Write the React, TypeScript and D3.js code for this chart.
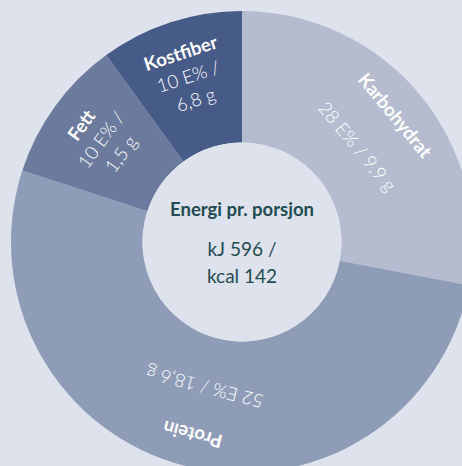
import React from "react";
import * as d3 from "d3";

const categories = ["Karbohydrat", "Protein", "Fett", "Kostfiber"];
const energyPct = [28, 52, 10, 10];
const valueLines = [["28 E% / 9,9 g"], ["52 E% / 18,6 g"], ["10 E% /", "1,5 g"], ["10 E% /", "6,8 g"]];
const colors = ["#b5bccf", "#8f9cb7", "#6b7a9d", "#475b88"];
const centerTitle = "Energi pr. porsjon";
const centerLines = ["kJ 596 /", "kcal 142"];

const W = 462;
const H = 466;
const cx = 242;
const cy = 242;
const R = 231;
const r0 = 99.5;
const titleR = 199;
const lastR = 150;

export default function App() {
  const pie = d3.pie<number>().sort(null).value((d) => d);
  const arcs = pie(energyPct);
  const arcGen = d3.arc<d3.PieArcDatum<number>>().innerRadius(r0).outerRadius(R);
  const font = "Lato, 'Open Sans', sans-serif";
  return (
    <div style={{ position: "fixed", left: 0, top: 0, width: W, height: H, background: "#dee2ec" }}>
      <svg width={W} height={H} style={{ display: "block" }}>
        <rect width={W} height={H} fill="#dee2ec" />
        <g transform={`translate(${cx},${cy})`}>
          {arcs.map((a, i) => (
            <path key={i} d={arcGen(a) || ""} fill={colors[i]} />
          ))}
          <circle r={r0} fill="#dde2ec" />
          {arcs.map((a, i) => {
            const mid = ((a.startAngle + a.endAngle) / 2) * (180 / Math.PI);
            const lines = valueLines[i];
            const n = lines.length;
            const rs = lines.map((_, j) =>
              n === 1 ? lastR : titleR - ((titleR - lastR) * (j + 1)) / n
            );
            return (
              <g key={"l" + i} transform={`rotate(${mid})`} fill="#ffffff" fontFamily={font}>
                <text
                  x={0}
                  y={-titleR}
                  textAnchor="middle"
                  dominantBaseline="central"
                  fontWeight={700}
                  fontSize={18.5}
                >
                  {categories[i]}
                </text>
                {lines.map((t, j) => (
                  <text
                    key={j}
                    x={0}
                    y={-rs[j]}
                    textAnchor="middle"
                    dominantBaseline="central"
                    fontWeight={300}
                    fontSize={18.5}
                  >
                    {t}
                  </text>
                ))}
              </g>
            );
          })}
          <g fill="#234b52" fontFamily={font} textAnchor="middle">
            <text x={0} y={-26} fontWeight={700} fontSize={18.5}>
              {centerTitle}
            </text>
            {centerLines.map((t, j) => (
              <text key={j} x={0} y={14 + j * 27} fontWeight={400} fontSize={19}>
                {t}
              </text>
            ))}
          </g>
        </g>
      </svg>
    </div>
  );
}
